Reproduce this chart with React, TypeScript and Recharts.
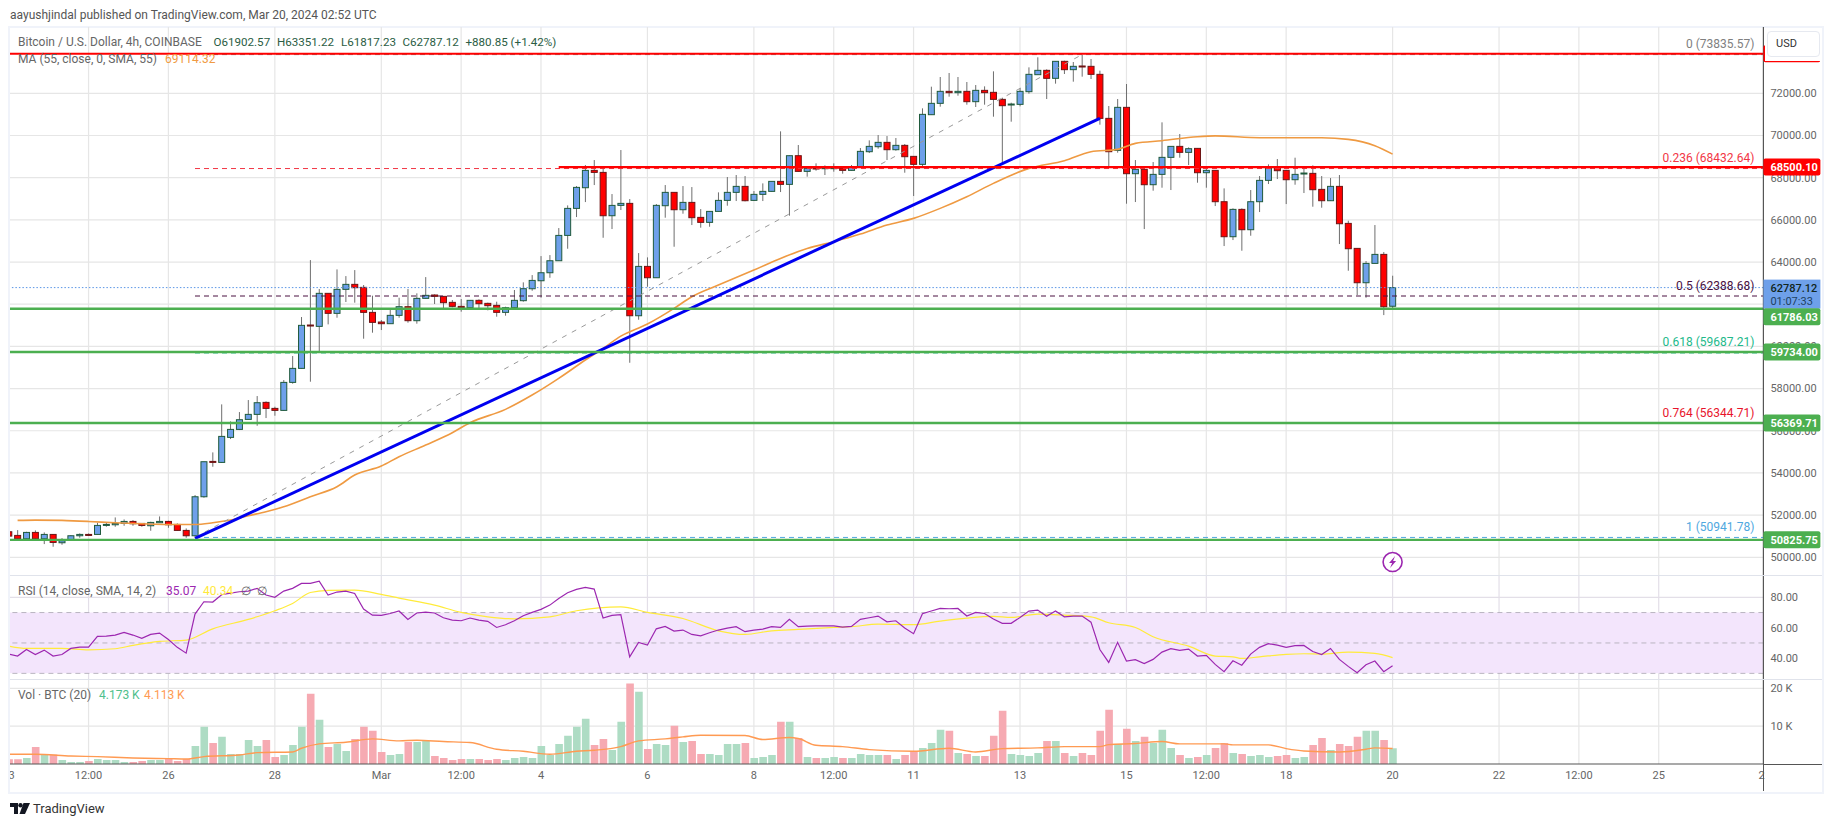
import { Bar, CartesianGrid, Cell, ComposedChart, Line, ReferenceArea, ReferenceDot, ReferenceLine, XAxis, YAxis } from "recharts"

// BTC/USD 4h, TradingView snapshot. Bar index 0 = Feb 26 00:00, one index per 4h candle.
const FIRST_BAR = -18

// [open, high, low, close]
const candles: number[][] = [
  [51210, 51210, 51005, 51005], [51037, 51289, 50878, 50878], [50878, 51210, 50863, 51179], [51179, 51274, 50863, 50878],
  [50878, 51179, 50626, 51084], [51084, 51100, 50499, 50704], [50689, 50910, 50594, 50783], [50831, 51052, 50815, 51021],
  [51021, 51131, 50926, 51084], [51084, 51131, 51021, 51052], [51084, 51637, 51068, 51511], [51527, 51653, 51448, 51558],
  [51542, 51890, 51448, 51606], [51606, 51795, 51495, 51700], [51700, 51764, 51495, 51590], [51606, 51606, 51448, 51511],
  [51495, 51685, 51258, 51653], [51637, 51938, 51637, 51700], [51700, 51732, 51400, 51542], [51558, 51606, 51258, 51274],
  [51274, 51368, 50926, 51021], [51021, 52950, 50973, 52870], [52870, 54531, 52823, 54531], [54546, 54973, 54293, 54515],
  [54499, 57250, 54483, 55732], [55685, 56443, 55606, 56064], [56064, 56886, 56032, 56523], [56538, 57455, 56538, 56776],
  [56776, 57645, 56238, 57329], [57345, 57392, 56602, 57060], [57060, 57139, 56712, 56965], [56965, 58404, 56949, 58293],
  [58293, 59542, 58230, 58957], [58957, 61392, 58942, 60997], [61013, 64092, 58325, 60981], [60949, 62720, 59779, 62515],
  [62515, 62515, 61044, 61566], [61566, 63650, 61360, 62704], [62704, 63333, 62104, 62941], [62941, 63618, 62072, 62783],
  [62799, 62910, 60364, 61613], [61613, 62404, 60649, 61139], [61155, 61250, 60775, 61076], [61076, 61724, 61076, 61471],
  [61471, 62309, 61360, 61882], [61882, 62720, 61123, 61218], [61218, 62515, 61076, 62277], [62277, 63286, 62262, 62420],
  [62436, 62467, 62009, 62372], [62372, 62388, 61819, 62072], [62088, 62198, 61851, 61898], [61898, 62246, 61645, 61835],
  [61835, 62198, 61819, 62183], [62183, 62230, 61819, 62024], [62040, 62072, 61708, 61930], [61945, 62119, 61408, 61613],
  [61613, 61882, 61455, 61835], [61835, 62673, 61819, 62183], [62167, 63036, 62119, 62736], [62733, 63381, 62638, 63128],
  [63112, 64282, 62309, 63492], [63492, 64329, 63254, 64061], [64061, 65610, 64061, 65262], [65262, 66685, 64630, 66543],
  [66543, 67602, 66132, 67539], [67523, 68598, 66843, 68345], [68345, 68835, 67650, 68250], [68250, 68472, 65151, 66195],
  [66195, 67223, 65563, 66685], [66686, 69310, 66465, 66781], [66781, 66986, 59224, 61453], [61453, 64425, 61263, 63793],
  [63793, 64220, 62828, 63255], [63255, 66749, 63255, 66686], [66670, 67650, 66101, 67303], [67303, 67303, 64725, 66480],
  [66480, 67603, 66291, 66828], [66828, 67555, 65753, 66101], [66117, 66512, 65627, 65880], [65880, 66401, 65674, 66401],
  [66401, 67303, 66401, 66923], [66923, 68030, 66670, 67303], [67303, 68125, 66892, 67587], [67587, 68077, 66876, 66907],
  [66923, 67366, 66892, 67208], [67208, 67729, 66892, 67350], [67350, 67824, 67334, 67824], [67824, 70196, 67318, 67682],
  [67682, 69057, 66196, 69042], [69042, 69548, 68283, 68298], [68298, 68504, 68046, 68441], [68457, 68678, 68330, 68425],
  [68425, 68583, 68125, 68473], [68425, 68678, 68283, 68473], [68457, 68520, 68188, 68346], [68346, 68599, 68330, 68488],
  [68488, 69405, 68488, 69247], [69231, 69769, 69168, 69484], [69468, 70022, 69374, 69674], [69674, 69974, 68836, 69326],
  [69326, 69880, 69279, 69532], [69532, 69595, 68235, 68994], [69010, 69010, 67129, 68631], [68631, 71287, 68520, 71002],
  [70986, 72314, 70986, 71524], [71524, 72773, 71366, 72093], [72093, 72963, 71840, 72030], [72030, 72773, 71887, 72093],
  [72093, 72536, 71461, 71603], [71603, 72393, 71350, 72140], [72140, 72330, 71461, 72030], [72046, 73042, 70891, 71713],
  [71713, 71793, 68678, 71413], [71460, 71555, 70654, 71492], [71476, 72251, 71382, 72093], [72077, 73231, 71982, 72899],
  [72883, 73706, 72883, 73089], [73089, 73136, 71729, 72710], [72710, 73516, 72457, 73516], [73516, 73547, 72915, 73121],
  [73121, 73484, 72551, 73279], [73295, 73835, 72789, 73263], [73279, 73627, 72678, 72899], [72899, 73073, 70512, 70812],
  [70812, 71397, 68552, 69231], [69295, 71729, 69184, 71334], [71334, 72441, 66765, 68188], [68188, 68836, 66844, 68393],
  [68393, 68441, 65563, 67666], [67666, 68741, 67382, 68156], [68156, 70623, 67524, 68963], [68963, 69484, 67413, 69484],
  [69484, 70069, 68947, 69200], [69200, 69437, 68599, 69374], [69389, 69389, 67761, 68235], [68235, 68441, 67524, 68346],
  [68346, 68346, 66654, 66860], [66860, 67492, 64757, 65200], [65200, 66544, 65042, 66496], [66496, 66544, 64536, 65532],
  [65532, 67413, 65247, 66860], [66860, 68077, 66370, 67872], [67872, 68631, 67698, 68520], [68520, 68884, 67935, 68330],
  [68346, 68346, 66749, 67903], [67903, 68947, 67666, 68156], [68188, 68488, 67271, 68220], [68204, 68583, 66623, 67429],
  [67445, 68077, 66575, 66907], [66907, 67982, 66907, 67587], [67587, 68125, 64852, 65816], [65832, 65959, 63587, 64631],
  [64647, 64647, 62433, 63018], [63018, 64046, 62307, 63935], [63935, 65753, 63935, 64362], [64362, 64473, 61484, 61880],
  [61902.57, 63351.22, 61817.23, 62787.12],
]

const volumes = [
  1239, 1239, 1593, 4514, 2478, 2478, 1062, 531, 531, 797, 1328, 1062, 1062, 531, 531, 797, 1062, 1062,
  1593, 797, 1328, 4779, 9824, 5576, 7169, 2655, 2655, 6372, 4779, 6372, 1859, 2390, 5045, 9824, 18585, 11682,
  4514, 5310, 3452, 6638, 9824, 8762, 3186, 2390, 2655, 5841, 5841, 6107, 2124, 1593, 1062, 1328, 1328, 1328,
  1062, 1328, 1062, 1593, 1859, 1593, 4779, 2390, 5310, 7434, 9824, 11948, 5045, 6638, 3717, 11151, 21240, 19116,
  3983, 5310, 5045, 10089, 5841, 6107, 2655, 2655, 2390, 5310, 5310, 5576, 1593, 1859, 2390, 11151, 11151, 6903,
  1859, 1593, 1593, 1859, 1593, 1593, 2655, 2390, 2390, 2390, 1328, 2390, 3452, 4248, 5576, 9027, 8762, 2921,
  2655, 2124, 2124, 7434, 14072, 2655, 2390, 2124, 2921, 6107, 6107, 2921, 2124, 2921, 2390, 8762, 14337, 5310,
  9293, 6107, 7169, 5576, 9027, 4248, 2390, 1593, 1859, 2390, 4248, 5576, 2921, 2655, 2124, 2390, 1859, 2124,
  2390, 1593, 1859, 5045, 6903, 3717, 5310, 4779, 7169, 8762, 8762, 6372, 4173,
]

const rsiValues = [
  42.7, 41.4, 45.7, 42.4, 45.3, 41.4, 42.4, 46.4, 47.3, 47.3, 54.3, 54.5, 55.2, 56.9, 55.2, 53.0, 55.6, 56.5,
  52.3, 47.1, 43.3, 69.0, 77.1, 76.9, 81.7, 82.8, 83.7, 84.1, 85.9, 81.5, 80.0, 84.1, 85.9, 89.2, 89.2, 90.7,
  81.5, 83.5, 84.1, 82.6, 72.3, 68.3, 68.1, 69.4, 71.0, 65.5, 69.7, 70.3, 69.7, 66.6, 65.0, 64.6, 66.4, 65.0,
  64.2, 60.2, 62.0, 64.6, 67.9, 70.1, 72.1, 74.9, 79.3, 83.0, 85.2, 86.5, 85.4, 66.4, 68.1, 68.6, 40.9, 50.4,
  48.6, 59.3, 60.9, 57.8, 58.5, 55.6, 54.7, 56.7, 58.5, 59.8, 60.7, 57.4, 58.5, 59.1, 60.7, 60.2, 65.5, 60.7,
  61.1, 61.3, 61.3, 61.3, 60.4, 60.9, 65.5, 66.6, 67.7, 63.9, 64.6, 59.8, 56.1, 69.2, 71.0, 72.7, 72.5, 72.7,
  67.7, 70.1, 69.4, 65.7, 62.9, 62.9, 66.8, 71.0, 71.6, 67.5, 71.0, 67.2, 67.7, 67.7, 63.7, 45.7, 37.2, 50.4,
  38.1, 39.0, 36.5, 39.2, 44.0, 46.2, 45.1, 46.0, 41.4, 41.8, 35.9, 31.1, 38.3, 35.4, 42.7, 47.1, 49.5, 48.6,
  47.1, 48.2, 48.4, 44.4, 42.4, 46.4, 39.2, 34.6, 30.4, 35.7, 38.1, 31.1, 35.07,
]

const maBars = [-17, -15, -12, -9, -6, -3, 0, 3, 5, 7, 9, 11, 13, 16, 19, 21, 24, 26, 29, 32, 34, 38, 41, 44, 47, 49, 51, 54, 57, 59, 62, 66, 69, 72, 75, 78, 81, 84, 87, 90, 93, 97, 101, 104, 107, 109, 112, 116, 118, 123, 130, 133, 136, 138]
const maValues = [51748, 51764, 51748, 51700, 51637, 51590, 51558, 51558, 51637, 51764, 51969, 52159, 52396, 52870, 53345, 53898, 54325, 54768, 55321, 55906, 56380, 57013, 57692, 58483, 59353, 59906, 60488, 61058, 61801, 62354, 62907, 63619, 64172, 64646, 64963, 65326, 65753, 66070, 66544, 67097, 67729, 68441, 68804, 69231, 69342, 69627, 69753, 69943, 69980, 69895, 69895, 69816, 69516, 69114.32]

const rsiMaBars = [-18, -16, -12, -9, -6, -4, -1, 2, 5, 9, 12, 14, 16, 18, 21, 24, 26, 30, 33, 36, 39, 43, 46, 51, 54, 58, 62, 65, 68, 71, 75, 77, 80, 84, 87, 90, 93, 95, 98, 101, 104, 106, 109, 111, 115, 118, 120, 121, 123, 126, 128, 130, 133, 136, 138]
const rsiMaValues = [47.9, 46.4, 46.4, 45.5, 46.2, 48.4, 51, 51.9, 59.3, 65.5, 71.2, 76, 83.2, 84.6, 84.8, 81.9, 79.5, 74.9, 70.1, 67.2, 65.9, 67.2, 71.2, 73.8, 70.1, 66.1, 58, 55.6, 58, 58.9, 60.2, 60.7, 62.4, 62, 64.4, 66.4, 67.5, 66.8, 69, 68.3, 67.2, 63.3, 60.2, 54.1, 47.9, 41.4, 40.9, 39.8, 40.9, 42.5, 42.9, 42.7, 44, 43.1, 40.34]

const volMaBars = [-18, -15, -11, -8, -4, 0, 2, 4, 8, 10, 14, 15, 17, 20, 23, 26, 28, 31, 34, 37, 40, 43, 46, 48, 51, 53, 56, 58, 60, 65, 67, 70, 71, 73, 76, 79, 84, 88, 91, 94, 98, 101, 105, 106, 109, 112, 114, 119, 120, 124, 126, 128, 132, 135, 136, 138]
const volMaValues = [2567, 2567, 2124, 1947, 1593, 1416, 1328, 1947, 2390, 3009, 3186, 4160, 5310, 5753, 6638, 6107, 6284, 5930, 5664, 3894, 3363, 2567, 3363, 3629, 4602, 6107, 6638, 7169, 7611, 7523, 6461, 6992, 6726, 4956, 4602, 3806, 3363, 4160, 3186, 4071, 4248, 4602, 4602, 5133, 5399, 5930, 5310, 5310, 5045, 5045, 4071, 3452, 3186, 3894, 4248, 4113]

const gridBars = [-9, 0, 12, 24, 33, 42, 54, 66, 75, 84, 96, 108, 117, 126, 138, 150, 159, 168]
const timeBars = [-17.69, -9, 0, 12, 24, 33, 42, 54, 66, 75, 84, 96, 108, 117, 126, 138, 150, 159, 168, 179.6]
const timeLabels = ["3", "12:00", "26", "28", "Mar", "12:00", "4", "6", "8", "12:00", "11", "13", "15", "12:00", "18", "20", "22", "12:00", "25", "2"]

const priceTicks = [50000, 52000, 54000, 56000, 58000, 60000, 62000, 64000, 66000, 68000, 70000, 72000]
const rsiTicks = [40, 60, 80]
const rsiBandLines = [30, 50, 70]
const volTicks = [10000, 20000]

const fibLevels = ["0", "0.236", "0.5", "0.618", "0.764", "1"]
const fibPrices = [73835.57, 68432.64, 62388.68, 59687.21, 56344.71, 50941.78]
const fibColors = ["#808080", "#f23645", "#4a1040", "#22b98a", "#e8142c", "#4fa8e0"]
const FIB_START = 3

const lastPrice = 62787.12
const greenLevels = [61786.03, 59734.0, 56369.71, 50825.75]
const greenShift = [8, 0, 0, 0]
const topLevel = 73870
const resistance = 68500.1
const RESISTANCE_START = 44

const trendBars = [3, 105]
const trendPrices = [50894, 70812]
const fibTrendBars = [3, 103]
const fibTrendPrices = [50941.78, 73835.57]

const FONT = "Roboto, sans-serif"
const X_DOMAIN = [-17.856, 179.8]
const PRICE_DOMAIN = [49160, 75144]
const PLOT_LEFT = 10
const CHART_W = 1812
const AXIS_W = 58.6
const GRID = "#e6e6e6"
const AXIS = "#555555"
const MUTED = "#666666"
const DARK_GREEN = "#2b5d44"

const candleData = candles.map((c, k) => ({ bar: FIRST_BAR + k, open: c[0], high: c[1], low: c[2], close: c[3] }))
const volumeData = volumes.map((v, k) => ({ bar: FIRST_BAR + k, volume: v }))
const rsiData = rsiValues.map((v, k) => ({ bar: FIRST_BAR + k, rsi: v }))
const pairs = (bars: number[], values: number[]) => bars.map((bar, k) => ({ bar, value: values[k] }))

function Candle(props: any) {
  const { x, y, width, height, payload } = props
  const { open, high, low, close } = payload
  const perUnit = height / (high - low)
  const top = y + (high - Math.max(open, close)) * perUnit
  const bottom = y + (high - Math.min(open, close)) * perUnit
  const up = close >= open
  return (
    <g>
      <line x1={x + width / 2} x2={x + width / 2} y1={y} y2={y + height} stroke="#6e6e6e" strokeWidth={1} />
      <rect
        x={x + 0.5}
        y={top}
        width={width - 1}
        height={Math.max(bottom - top, 1)}
        fill={up ? "#6ea0ea" : "#ff0000"}
        stroke={up ? "#1f5a3c" : "#6e1414"}
        strokeWidth={1}
      />
    </g>
  )
}

function FibLabel({ viewBox, text, color }: any) {
  if (!viewBox) return null
  return (
    <text x={viewBox.x + viewBox.width - 9} y={viewBox.y - 6.5} textAnchor="end" fontFamily={FONT} fontSize={12} fill={color}>
      {text}
    </text>
  )
}

function PriceTag({ viewBox, text, bg, shift = 0 }: any) {
  if (!viewBox) return null
  const x = viewBox.x + viewBox.width
  const cy = viewBox.y + shift
  return (
    <g>
      <rect x={x} y={cy - 8.5} width={57} height={17} rx={2} fill={bg} />
      {text && (
        <text x={x + 7} y={cy + 4} fontFamily={FONT} fontSize={11} fontWeight={700} fill="#ffffff">
          {text}
        </text>
      )}
    </g>
  )
}

function LastPriceTag({ viewBox }: any) {
  if (!viewBox) return null
  const x = viewBox.x + viewBox.width
  return (
    <g>
      <rect x={x} y={viewBox.y - 8} width={57} height={29} fill="#6ea0ea" />
      <text x={x + 7} y={viewBox.y + 4} fontFamily={FONT} fontSize={11} fontWeight={500} fill="#12261c">
        {lastPrice.toFixed(2)}
      </text>
      <text x={x + 7} y={viewBox.y + 17} fontFamily={FONT} fontSize={11} fill="#21415f">
        01:07:33
      </text>
    </g>
  )
}

function Flash({ cx, cy }: any) {
  return (
    <g>
      <circle cx={cx} cy={cy} r={9.5} fill="#ffffff" stroke="#9c27b0" strokeWidth={1.6} />
      <path d={`M${cx + 2.5} ${cy - 6} L${cx - 3.5} ${cy + 1} L${cx - 0.5} ${cy + 1} L${cx - 2.5} ${cy + 6} L${cx + 3.5} ${cy - 1} L${cx + 0.5} ${cy - 1} Z`} fill="#9c27b0" />
    </g>
  )
}

function Txt({ x, y, color = MUTED, size = 12, children }: any) {
  return (
    <div style={{ position: "absolute", left: x, top: y - 8, height: 16, lineHeight: "16px", fontFamily: FONT, fontSize: size, color, whiteSpace: "pre" }}>
      {children}
    </div>
  )
}

function Rule({ x, y, w, h, color }: any) {
  return <div style={{ position: "absolute", left: x, top: y, width: w, height: h, background: color }} />
}

const axisTick = { fill: MUTED, fontSize: 11, fontFamily: FONT }

function priceChart() {
  return (
    <ComposedChart width={CHART_W} height={548} data={candleData} margin={{ top: 0, right: 0, bottom: 0, left: 0 }}>
      <XAxis dataKey="bar" type="number" domain={X_DOMAIN} allowDataOverflow hide />
      <YAxis orientation="right" width={AXIS_W} domain={PRICE_DOMAIN} ticks={priceTicks} allowDataOverflow interval={0} tick={axisTick} tickSize={0} tickMargin={7} tickLine={false} axisLine={{ stroke: AXIS, strokeWidth: 1.2 }} tickFormatter={(v: number) => v.toFixed(2)} />
      <CartesianGrid stroke={GRID} strokeWidth={1.2} verticalValues={gridBars} horizontalValues={priceTicks} />
      <ReferenceLine y={lastPrice} stroke="#5a96e6" strokeDasharray="1.5 2" strokeWidth={1} />
      <Line type="monotone" data={pairs(maBars, maValues)} dataKey="value" stroke="#ef9a42" strokeWidth={1.6} dot={false} activeDot={false} isAnimationActive={false} />
      <Bar dataKey={(d: any) => [d.low, d.high]} barSize={7} shape={<Candle />} isAnimationActive={false} />
      <Line data={pairs(fibTrendBars, fibTrendPrices)} dataKey="value" stroke="#9a9a9a" strokeWidth={1} strokeDasharray="5 6" dot={false} activeDot={false} isAnimationActive={false} />
      {fibPrices.map((p, k) => (
        <ReferenceLine
          key={fibLevels[k]}
          segment={[{ x: FIB_START, y: p }, { x: X_DOMAIN[1], y: p }]}
          stroke={fibColors[k]}
          strokeWidth={1}
          strokeDasharray="5 4"
        />
      ))}
      <Line data={pairs(trendBars, trendPrices)} dataKey="value" stroke="#0000f0" strokeWidth={3} dot={false} activeDot={false} isAnimationActive={false} />
      <ReferenceLine y={topLevel} stroke="#ff0000" strokeWidth={2} />
      <ReferenceLine segment={[{ x: RESISTANCE_START, y: resistance }, { x: X_DOMAIN[1], y: resistance }]} stroke="#ff0000" strokeWidth={2.4} />
      {greenLevels.map((p) => (
        <ReferenceLine key={p} y={p} stroke="#4caf50" strokeWidth={2.4} />
      ))}
      {fibPrices.map((p, k) => (
        <ReferenceLine key={`label-${k}`} y={p} stroke="none" label={<FibLabel color={fibColors[k]} text={`${fibLevels[k]} (${p.toFixed(2)})`} />} />
      ))}
      <ReferenceDot x={138} y={49774} r={10} shape={<Flash />} />
    </ComposedChart>
  )
}

// second layer with the same scales: the price tags sit above the axis labels
function tagLayer() {
  return (
    <ComposedChart width={CHART_W} height={548} data={candleData} margin={{ top: 0, right: 0, bottom: 0, left: 0 }}>
      <XAxis dataKey="bar" type="number" domain={X_DOMAIN} allowDataOverflow hide />
      <YAxis orientation="right" width={AXIS_W} domain={PRICE_DOMAIN} allowDataOverflow tick={false} tickLine={false} axisLine={false} />
      <ReferenceLine y={lastPrice} stroke="none" label={<LastPriceTag />} />
      <ReferenceLine y={topLevel} stroke="none" label={<PriceTag bg="#ff0000" />} />
      <ReferenceLine y={resistance} stroke="none" label={<PriceTag bg="#ff0000" text={resistance.toFixed(2)} />} />
      {greenLevels.map((p, k) => (
        <ReferenceLine key={p} y={p} stroke="none" label={<PriceTag bg="#4caf50" text={p.toFixed(2)} shift={greenShift[k]} />} />
      ))}
    </ComposedChart>
  )
}

function rsiChart() {
  return (
    <ComposedChart width={CHART_W} height={104} data={rsiData} margin={{ top: 0, right: 0, bottom: 0, left: 0 }}>
      <XAxis dataKey="bar" type="number" domain={X_DOMAIN} allowDataOverflow hide />
      <YAxis orientation="right" width={AXIS_W} domain={[26.3, 94.7]} ticks={rsiTicks} allowDataOverflow interval={0} tick={axisTick} tickSize={0} tickMargin={7} tickLine={false} axisLine={{ stroke: AXIS, strokeWidth: 1.2 }} tickFormatter={(v: number) => v.toFixed(2)} />
      <ReferenceArea y1={rsiBandLines[0]} y2={rsiBandLines[2]} fill="#f3e5fc" fillOpacity={1} stroke="none" />
      <CartesianGrid stroke="#e3dfe8" strokeWidth={1.2} verticalValues={gridBars} horizontalValues={rsiTicks} />
      {rsiBandLines.map((v) => (
        <ReferenceLine key={v} y={v} stroke="#b9b4c0" strokeWidth={1} strokeDasharray="5 4" />
      ))}
      <Line type="monotone" data={pairs(rsiMaBars, rsiMaValues)} dataKey="value" stroke="#ffeb3b" strokeWidth={1.2} dot={false} activeDot={false} isAnimationActive={false} />
      <Line dataKey="rsi" stroke="#9c27b0" strokeWidth={1.2} dot={false} activeDot={false} isAnimationActive={false} />
    </ComposedChart>
  )
}

function volumeChart() {
  return (
    <ComposedChart width={CHART_W} height={113} data={volumeData} margin={{ top: 0, right: 0, bottom: 0, left: 0 }}>
      <XAxis dataKey="bar" type="number" height={28} domain={X_DOMAIN} allowDataOverflow ticks={timeBars} interval={0} tick={axisTick} tickSize={0} tickMargin={7} tickLine={false} axisLine={{ stroke: AXIS, strokeWidth: 1.2 }} tickFormatter={(v: number) => timeLabels[timeBars.indexOf(v)]} />
      <YAxis orientation="right" width={AXIS_W} domain={[0, 22460]} ticks={volTicks} allowDataOverflow interval={0} tick={axisTick} tickSize={0} tickMargin={7} tickLine={false} axisLine={{ stroke: AXIS, strokeWidth: 1.2 }} tickFormatter={(v: number) => `${v / 1000} K`} />
      <CartesianGrid stroke={GRID} strokeWidth={1.2} verticalValues={gridBars} horizontalValues={volTicks} />
      <Bar dataKey="volume" barSize={7.6} isAnimationActive={false}>
        {candles.map((c, k) => (
          <Cell key={k} fill={c[3] >= c[0] ? "#aedcc4" : "#f6aab2"} />
        ))}
      </Bar>
      <Line type="monotone" data={pairs(volMaBars, volMaValues)} dataKey="value" stroke="#ff9a52" strokeWidth={1.4} dot={false} activeDot={false} isAnimationActive={false} />
    </ComposedChart>
  )
}

export default function App() {
  return (
    <div style={{ position: "absolute", left: 0, top: 0, width: 1835, height: 827, overflow: "hidden", background: "#ffffff" }}>
      <Txt x={10} y={15} color="#555555">aayushjindal published on TradingView.com, Mar 20, 2024 02:52 UTC</Txt>
      <div style={{ position: "absolute", left: 8, top: 26, width: 1812, height: 764, border: "2px solid #f0f3fa" }} />

      <div style={{ position: "absolute", left: PLOT_LEFT, top: 27 }}>{priceChart()}</div>
      <div style={{ position: "absolute", left: PLOT_LEFT, top: 575 }}>{rsiChart()}</div>
      <div style={{ position: "absolute", left: PLOT_LEFT, top: 679 }}>{volumeChart()}</div>
      <div style={{ position: "absolute", left: PLOT_LEFT, top: 27, pointerEvents: "none" }}>{tagLayer()}</div>

      <Rule x={PLOT_LEFT} y={574.5} w={1812} h={1.5} color="#e0e3eb" />
      <Rule x={PLOT_LEFT} y={678.5} w={1812} h={1.5} color="#e0e3eb" />
      <Rule x={1763} y={764} w={59} h={1.2} color={AXIS} />
      <Rule x={1763} y={764} w={1.2} h={27} color={AXIS} />

      <Txt x={18} y={41.5}>Bitcoin / U.S. Dollar, 4h, COINBASE</Txt>
      <Txt x={213.5} y={41.5} size={11.6} color={DARK_GREEN}>O61902.57</Txt>
      <Txt x={277} y={41.5} size={11.6} color={DARK_GREEN}>H63351.22</Txt>
      <Txt x={341} y={41.5} size={11.6} color={DARK_GREEN}>L61817.23</Txt>
      <Txt x={402.5} y={41.5} size={11.6} color={DARK_GREEN}>C62787.12</Txt>
      <Txt x={465.5} y={41.5} size={11.6} color={DARK_GREEN}>+880.85 (+1.42%)</Txt>
      <Txt x={18} y={59}>MA (55, close, 0, SMA, 55)</Txt>
      <Txt x={165} y={59} color="#f09a42">69114.32</Txt>

      <Txt x={18} y={590.5}>RSI (14, close, SMA, 14, 2)</Txt>
      <Txt x={166} y={590.5} color="#9c27b0">35.07</Txt>
      <Txt x={203} y={590.5} color="#ffe93b">40.34</Txt>
      <Txt x={241} y={590.5}>∅</Txt>
      <Txt x={257} y={590.5}>∅</Txt>

      <Txt x={18} y={695}>Vol · BTC (20)</Txt>
      <Txt x={99} y={695} color="#4fbf8c">4.173 K</Txt>
      <Txt x={144} y={695} color="#ff9a52">4.113 K</Txt>

      <div style={{ position: "absolute", left: 1764.5, top: 28, width: 57, height: 32.5, background: "#ffffff" }} />
      <div style={{ position: "absolute", left: 1767, top: 31, width: 53, height: 26, boxSizing: "border-box", border: "1.5px solid #e6e9f0", borderRadius: 4, fontFamily: FONT, fontSize: 11, lineHeight: "23px", color: "#333", paddingLeft: 8 }}>USD</div>

      <svg style={{ position: "absolute", left: 10, top: 803 }} width={20} height={12}>
        <path d="M0 0 H8 V11 H4 V4 H0 Z" fill="#131722" />
        <circle cx={10.5} cy={2.2} r={2.2} fill="#131722" />
        <path d="M13.5 0 H20 L15 11 H9.5 Z" fill="#131722" />
      </svg>
      <Txt x={33} y={809} size={13} color="#333333">TradingView</Txt>
    </div>
  )
}
